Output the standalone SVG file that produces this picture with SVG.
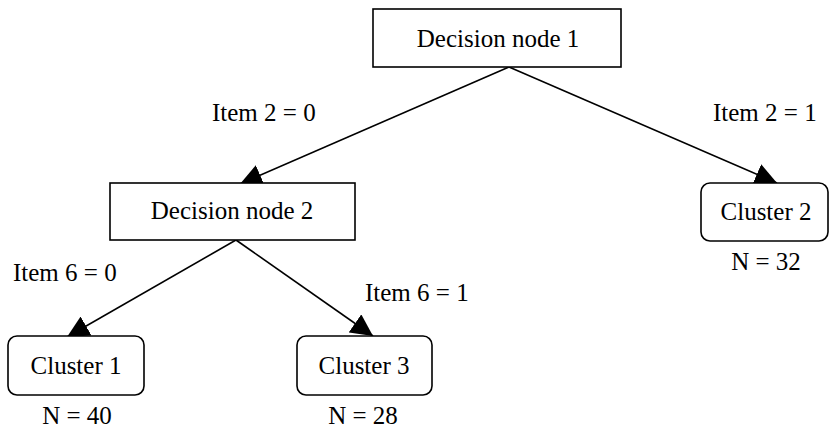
<svg xmlns="http://www.w3.org/2000/svg" width="830" height="430" viewBox="0 0 830 430">
  <style>
    .box { fill: #ffffff; stroke: #000000; stroke-width: 1.6; }
    .edge { fill: none; stroke: #000000; stroke-width: 1.6; marker-end: url(#arrow); }
    text { font-family: "Liberation Serif", "Times New Roman", serif; font-size: 25px; fill: #000000; }
    .c { text-anchor: middle; }
  </style>
  <defs>
    <marker id="arrow" viewBox="0 0 22 22" refX="22" refY="11" markerWidth="22" markerHeight="22" markerUnits="userSpaceOnUse" orient="auto">
      <path d="M0,0 L22,11 L0,22 z" fill="#000000"/>
    </marker>
  </defs>
  <rect width="830" height="430" fill="#ffffff"/>

  <!-- connectors -->
  <g id="edges">
    <line class="edge" x1="509" y1="67" x2="240" y2="184"/>
    <line class="edge" x1="509" y1="67" x2="777" y2="183"/>
    <line class="edge" x1="236" y1="240" x2="67" y2="337"/>
    <line class="edge" x1="236" y1="240" x2="373" y2="336"/>
    <text x="212" y="121">Item 2 = 0</text>
    <text x="713" y="121">Item 2 = 1</text>
    <text x="13" y="281">Item 6 = 0</text>
    <text x="365" y="301">Item 6 = 1</text>
  </g>

  <g id="decision1">
    <rect class="box" x="373" y="9" width="248" height="58"/>
    <text class="c" x="498" y="47">Decision node 1</text>
  </g>

  <g id="decision2">
    <rect class="box" x="110" y="183" width="245" height="57"/>
    <text class="c" x="232" y="219">Decision node 2</text>
  </g>

  <g id="cluster1">
    <rect class="box" x="8" y="336" width="136" height="59" rx="9"/>
    <text class="c" x="76" y="374">Cluster 1</text>
    <text class="c" x="77" y="424">N = 40</text>
  </g>

  <g id="cluster3">
    <rect class="box" x="297" y="336" width="135" height="59" rx="9"/>
    <text class="c" x="364" y="374">Cluster 3</text>
    <text class="c" x="363" y="424">N = 28</text>
  </g>

  <g id="cluster2">
    <rect class="box" x="701" y="183" width="127" height="58" rx="9"/>
    <text class="c" x="766" y="220">Cluster 2</text>
    <text class="c" x="766" y="270">N = 32</text>
  </g>
</svg>
